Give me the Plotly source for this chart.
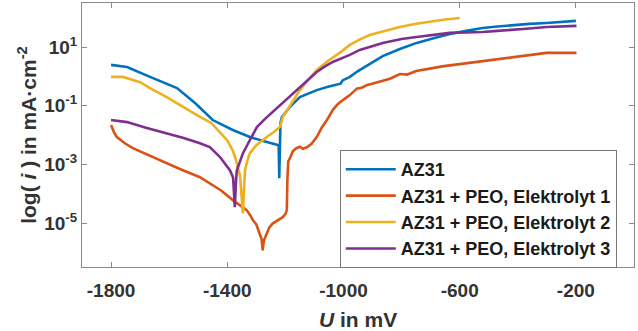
import plotly.graph_objects as go

# ---- data (U in mV, log10(i) with i in mA/cm^2) ----
az31_U = [-1800, -1745, -1666, -1573, -1511, -1450, -1381, -1322, -1270, -1223, -1221, -1217, -1212,
          -1185, -1150, -1120, -1092, -1050, -1010, -1003, -978, -950, -920, -865, -806, -748, -690,
          -634, -577, -521, -470, -418, -360, -301, -250, -200]
az31_log = [0.39, 0.32, -0.02, -0.40, -0.91, -1.49, -1.83, -2.07, -2.22, -2.35, -3.47, -1.60, -1.39,
            -1.05, -0.71, -0.58, -0.47, -0.35, -0.25, -0.14, -0.02, 0.18, 0.35, 0.69, 0.93, 1.14, 1.30,
            1.44, 1.55, 1.65, 1.70, 1.75, 1.79, 1.82, 1.86, 1.89]

e1_U = [-1800, -1790, -1780, -1750, -1725, -1670, -1608, -1563, -1494, -1460, -1420, -1381, -1350,
        -1333, -1320, -1312, -1300, -1288, -1282, -1278, -1274, -1268, -1264, -1255, -1243, -1225,
        -1209, -1200, -1195, -1193, -1190, -1185, -1174, -1162, -1150, -1140, -1126, -1110, -1092,
        -1075, -1057, -1037, -1020, -1002, -978, -954, -935, -920, -900, -865, -840, -806, -780,
        -750, -720, -693, -660, -630, -600, -576, -540, -497, -460, -418, -380, -340, -301, -270,
        -240, -198]
e1_log = [-1.66, -1.90, -2.07, -2.30, -2.45, -2.70, -2.96, -3.16, -3.44, -3.64, -3.90, -4.22, -4.42,
          -4.56, -4.75, -4.90, -5.05, -5.35, -5.55, -5.93, -5.60, -5.45, -5.35, -5.15, -5.01, -4.90,
          -4.80, -4.70, -4.56, -3.50, -2.90, -2.80, -2.55, -2.45, -2.40, -2.47, -2.42, -2.30, -2.07,
          -1.75, -1.49, -1.15, -0.95, -0.81, -0.64, -0.42, -0.38, -0.30, -0.24, -0.13, -0.08, 0.08, 0.06,
          0.18, 0.22, 0.28, 0.34, 0.38, 0.42, 0.45, 0.50, 0.56, 0.60, 0.66, 0.70, 0.75, 0.80, 0.80,
          0.79, 0.80]

e2_U = [-1800, -1759, -1700, -1666, -1610, -1553, -1500, -1455, -1401, -1380, -1367, -1356, -1346,
        -1342, -1339, -1330, -1322, -1300, -1278, -1264, -1240, -1219, -1209, -1180, -1150, -1120,
        -1092, -1050, -1013, -978, -945, -910, -860, -806, -750, -693, -650, -600]
e2_log = [-0.02, -0.02, -0.20, -0.40, -0.70, -1.05, -1.35, -1.59, -2.17, -2.55, -2.96, -3.40, -4.67,
          -3.80, -3.20, -2.85, -2.62, -2.35, -2.17, -2.07, -1.90, -1.73, -1.39, -0.92, -0.47, -0.10,
          0.22, 0.55, 0.80, 1.07, 1.25, 1.41, 1.55, 1.68, 1.79, 1.89, 1.94, 1.99]

e3_U = [-1800, -1745, -1680, -1608, -1550, -1494, -1460, -1425, -1391, -1380, -1374, -1370, -1367,
        -1356, -1346, -1322, -1298, -1270, -1240, -1209, -1180, -1150, -1120, -1092, -1065, -1037,
        -978, -944, -865, -800, -748, -690, -634, -580, -521, -470, -418, -360, -301, -250, -198]
e3_log = [-1.49, -1.56, -1.75, -1.94, -2.10, -2.28, -2.41, -2.75, -3.20, -3.45, -4.46, -3.60, -3.20,
          -2.90, -2.62, -2.17, -1.73, -1.45, -1.18, -0.91, -0.62, -0.37, -0.10, 0.15, 0.33, 0.49,
          0.73, 0.90, 1.14, 1.27, 1.34, 1.42, 1.48, 1.50, 1.51, 1.55, 1.58, 1.63, 1.68, 1.70, 1.72]

names = ["AZ31", "AZ31 + PEO, Elektrolyt 1", "AZ31 + PEO, Elektrolyt 2", "AZ31 + PEO, Elektrolyt 3"]
colors = ["#0072BD", "#D95319", "#EDB120", "#7E2F8E"]

x_ticks = [-1800, -1400, -1000, -600, -200]
y_tickvals = [1e1, 1e-1, 1e-3, 1e-5]
y_ticktext = ["10<sup>1</sup>", "10<sup>-1</sup>", "10<sup>-3</sup>", "10<sup>-5</sup>"]

FONT = "Liberation Sans, Arial, sans-serif"
AXC = "#8a8a8a"

fig = go.Figure()
for U, lg, nm, c in zip([az31_U, e1_U, e2_U, e3_U], [az31_log, e1_log, e2_log, e3_log], names, colors):
    fig.add_trace(go.Scatter(x=U, y=[10 ** v for v in lg], mode="lines", name=nm,
                             line=dict(color=c, width=2.6)))

fig.update_layout(
    width=638, height=331,
    margin=dict(l=82, r=4, t=3, b=64),
    paper_bgcolor="white", plot_bgcolor="white",
    font=dict(family=FONT, size=19, color="#222222", weight="bold"),
    showlegend=True,
    legend=dict(x=0.467, y=0.443, xanchor="left", yanchor="top",
                bgcolor="white", bordercolor="#777777", borderwidth=1,
                font=dict(family=FONT, size=18, color="#1a1a1a", weight="bold"),
                itemwidth=50, tracegroupgap=0),
)
fig.update_xaxes(range=[-1900, 0], tickvals=x_ticks, ticktext=[str(v) for v in x_ticks],
                 showline=True, linecolor=AXC, linewidth=1, mirror="ticks",
                 ticks="inside", ticklen=5, tickcolor=AXC, showgrid=False, zeroline=False,
                 ticklabelstandoff=6,
                 tickfont=dict(family=FONT, size=19, color="#333333", weight="bold"))
fig.update_yaxes(type="log", range=[-6.5, 2.5], tickvals=y_tickvals, ticktext=y_ticktext,
                 showline=True, linecolor=AXC, linewidth=1, mirror="ticks",
                 ticks="inside", ticklen=5, tickcolor=AXC, showgrid=False, zeroline=False,
                 tickfont=dict(family=FONT, size=19, color="#333333", weight="bold"))

fig.add_annotation(text="log( <i>i</i> ) in mA·cm<sup>-2</sup>", xref="paper", yref="paper",
                   x=-0.1, y=0.5, textangle=-90, showarrow=False, xanchor="center", yanchor="middle",
                   font=dict(family=FONT, size=21, color="#333333", weight="bold"))
fig.add_annotation(text="<i>U</i> in mV", xref="paper", yref="paper",
                   x=0.5, y=-0.2, showarrow=False, xanchor="center", yanchor="middle",
                   font=dict(family=FONT, size=21, color="#333333", weight="bold"))

fig.write_html("out.html")
